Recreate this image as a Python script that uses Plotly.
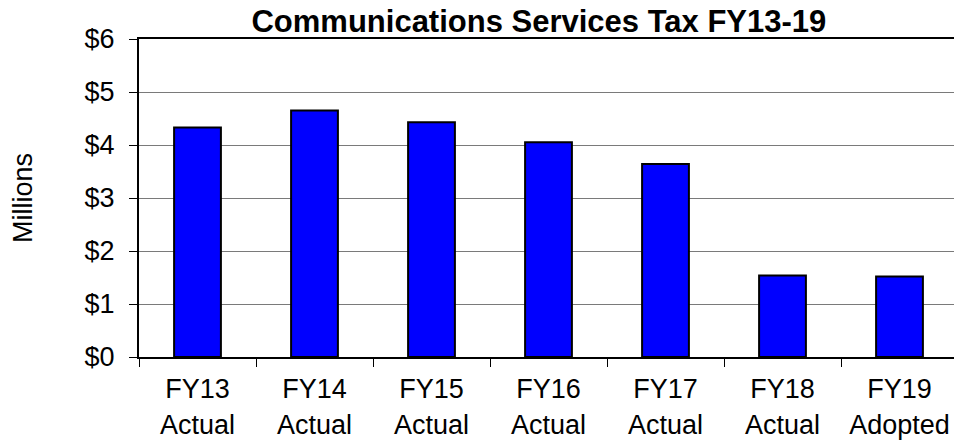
import plotly.graph_objects as go

categories = ["FY13<br>Actual", "FY14<br>Actual", "FY15<br>Actual", "FY16<br>Actual",
              "FY17<br>Actual", "FY18<br>Actual", "FY19<br>Adopted"]
revenue_millions = [4.33, 4.65, 4.43, 4.05, 3.64, 1.54, 1.52]

fig = go.Figure()
fig.add_trace(
    go.Bar(
        x=categories,
        y=revenue_millions,
        width=0.4,
        marker=dict(color="#0000FF", line=dict(color="black", width=2)),
        showlegend=False,
    )
)

# page has an 8px body margin, so the figure is drawn 8px smaller
fig.update_layout(
    width=954,
    height=434,
    margin=dict(l=131, r=2, t=31, b=84),
    paper_bgcolor="white",
    plot_bgcolor="white",
    font=dict(family="Liberation Sans, Arial", size=27, color="black"),
    title=dict(
        text="<b>Communications Services Tax FY13-19</b>",
        x=0.5565,
        xanchor="center",
        y=0.995,
        yanchor="top",
        font=dict(size=31, color="black"),
    ),
)

fig.update_yaxes(
    range=[0, 6],
    dtick=1,
    tickprefix="$",
    showgrid=True,
    gridcolor="#7a7a7a",
    gridwidth=1,
    zeroline=False,
    showline=True,
    linecolor="black",
    linewidth=2,
    mirror=True,
    ticks="outside",
    ticklen=8,
    tickcolor="black",
    ticklabelstandoff=9,
    title=dict(text="Millions", font=dict(size=27), standoff=46),
)
fig.update_xaxes(
    showline=True,
    linecolor="black",
    linewidth=2,
    mirror=True,
    ticks="outside",
    tickson="boundaries",
    ticklen=8,
    tickcolor="black",
    ticklabelstandoff=7,
    showgrid=False,
)

fig.write_html("out.html")
